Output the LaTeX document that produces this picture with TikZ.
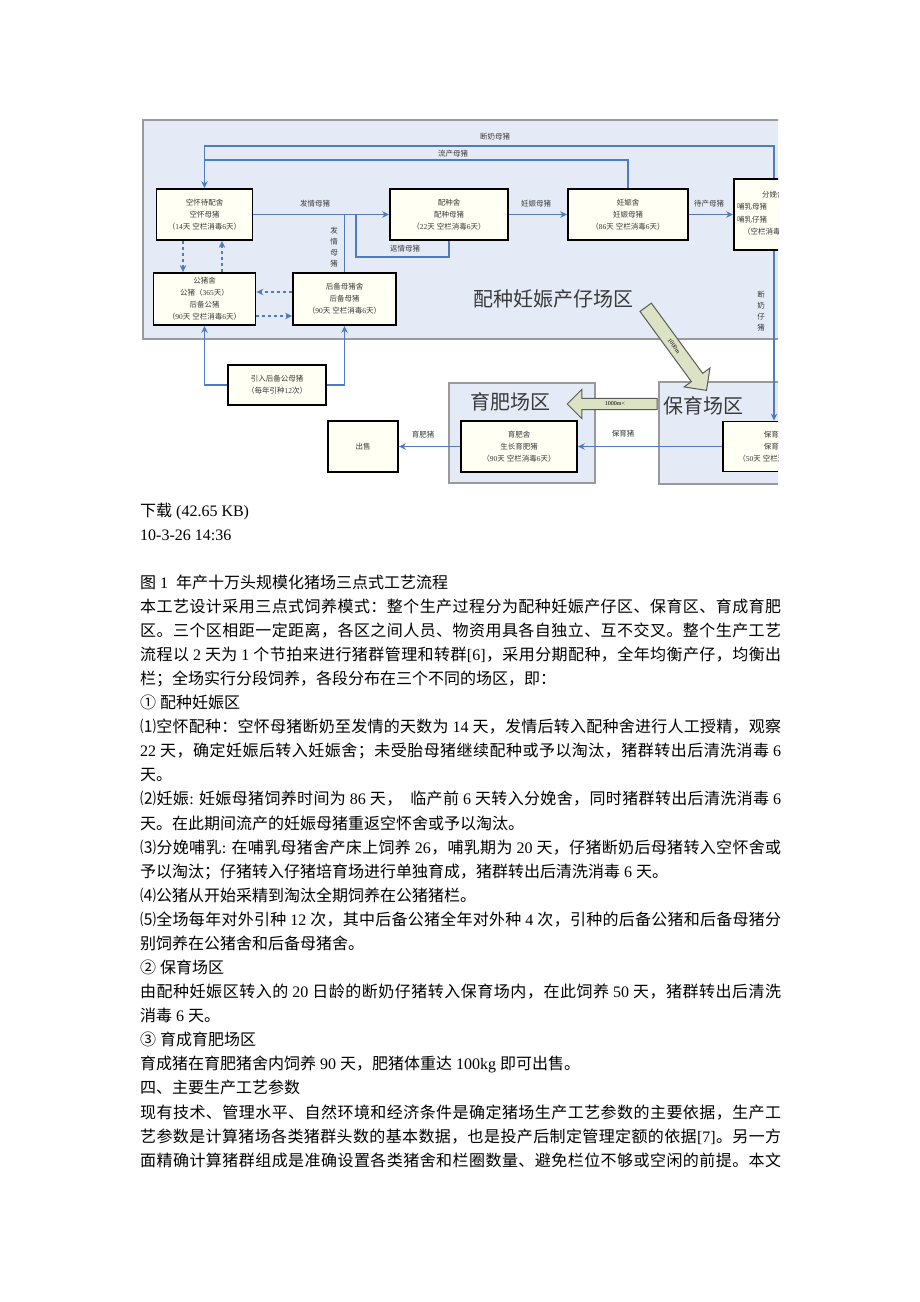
\documentclass[tikz,border=0pt]{standalone}
\usepackage{fontspec}
\setmainfont{Liberation Serif}
\newfontfamily\cjkf{Noto Sans CJK SC}
\usetikzlibrary{arrows.meta,shapes.arrows,calc}
\XeTeXinterchartokenstate=1
\newXeTeXintercharclass\cjkcls
\newcount\mycnt
\def\setcjkrange#1#2{\mycnt=#1\relax\loop\XeTeXcharclass\mycnt=\cjkcls\advance\mycnt by 1\relax\ifnum\mycnt<#2\relax\repeat}
\setcjkrange{"2460}{"2500}
\setcjkrange{"3000}{"3040}
\setcjkrange{"4E00}{"A000}
\setcjkrange{"FF00}{"FFF0}
\XeTeXinterchartoks 0 \cjkcls = {\hskip0pt plus 1pt\cjkf}
\XeTeXinterchartoks 4095 \cjkcls = {\cjkf}
\XeTeXinterchartoks \cjkcls 0 = {\hskip0pt plus 1pt\rmfamily}
\XeTeXinterchartoks \cjkcls 4095 = {\rmfamily}
\XeTeXinterchartoks \cjkcls \cjkcls = {\hskip0pt plus 1pt}
\hbadness=10000
\definecolor{zonefill}{HTML}{E5EBF6}
\definecolor{zoneline}{HTML}{9A9A9A}
\definecolor{shedfill}{HTML}{FFFFF3}
\definecolor{flowc}{HTML}{4F7CC0}
\definecolor{txtc}{HTML}{3A3A3A}
\definecolor{bigarr}{HTML}{DCE2C4}
\definecolor{arrline}{HTML}{5A5A5A}
\newcommand\mybl[2]{\node[body] (L#1) at (140,{516+24.08*#1}) {#2};}
\newcommand\myfl[2]{\node[body] (L#1) at (140,{516+24.08*#1}) {\spaceskip=4pt\relax\hbox to 641pt{#2}};}
\begin{document}
\begin{tikzpicture}[x=1pt,y=-1pt,
  zone/.style={draw=zoneline,line width=1.3pt,fill=zonefill},
  shed/.style={draw=black,line width=1.8pt,fill=shedfill,inner sep=0pt,align=center,text=txtc,font=\fontsize{7.5}{12}\selectfont},
  flowline/.style={draw=flowc,line width=1.4pt},
  flow/.style={flowline,-{Stealth[length=7pt,width=6.5pt]}},
  dflow/.style={flow,dash pattern=on 3pt off 3pt},
  elab/.style={text=txtc,font=\fontsize{7.5}{11}\selectfont,inner sep=0pt,align=center},
  bigl/.style={text=txtc,font=\fontsize{20}{22}\selectfont,inner sep=0pt},
  fatarrow/.style={single arrow,draw=arrline,fill=bigarr,line width=1pt,single arrow head extend=9pt,single arrow head indent=0pt,inner xsep=2pt,font=\fontsize{6}{6}\selectfont,text=black},
  body/.style={anchor=base west,inner sep=0pt,font=\fontsize{16}{24}\selectfont}
]
\useasboundingbox (0,0) rectangle (920,1302);
\fill[white] (0,0) rectangle (920,1302);

\begin{scope}
\clip (140,117) rectangle (778,487);
% zones
\filldraw[zone] (143,120) rectangle (820,339);
\filldraw[zone] (449,383) rectangle (595,483);
\filldraw[zone] (659,382) rectangle (820,484);

% sheds
\node[shed,minimum width=96pt,minimum height=51pt] (kong) at (204.5,214.5) {空怀待配舍\\空怀母猪\\（14天 空栏消毒6天）};
\node[shed,minimum width=118pt,minimum height=51pt] (pz) at (449,214.5) {配种舍\\配种母猪\\（22天 空栏消毒6天）};
\node[shed,minimum width=120pt,minimum height=51pt] (rs) at (628,214.5) {妊娠舍\\妊娠母猪\\（86天 空栏消毒6天）};
\node[shed,minimum width=80pt,minimum height=71pt] (fm) at (774,214.5) {};
\node[elab,anchor=west] (fm1) at (762,195) {分娩舍};
\node[elab,anchor=west] (fm2) at (737,207) {哺乳母猪};
\node[elab,anchor=west] (fm3) at (737,219.5) {哺乳仔猪};
\node[elab,anchor=west] (fm4) at (743,232) {（空栏消毒6天）};
\node[shed,minimum width=102pt,minimum height=52pt] (gz) at (204.5,299) {公猪舍\\公猪（365天）\\后备公猪\\（90天 空栏消毒6天）};
\node[shed,minimum width=103pt,minimum height=52pt] (hb) at (344.5,299) {后备母猪舍\\后备母猪\\（90天 空栏消毒6天）};
\node[shed,minimum width=98pt,minimum height=40pt] (yr) at (277,385) {引入后备公母猪\\（每年引种12次）};
\node[shed,minimum width=70pt,minimum height=51pt] (cs) at (363,446.5) {出售};
\node[shed,minimum width=116pt,minimum height=51pt] (yf) at (519,446.5) {育肥舍\\生长育肥猪\\（90天 空栏消毒6天）};
\node[shed,minimum width=104pt,minimum height=50pt] (by) at (775,446.5) {保育舍\\保育猪\\（50天 空栏消毒6天）};

% connectors
\coordinate (dm) at (204.5,146);
\coordinate (lc) at (204.5,160);
\coordinate (fq) at (356,257);
\draw[flow] (fm.north) |- (dm) -- (kong.north);
\draw[flowline] (rs.north) |- (lc);
\draw[flow] (kong.east) -- (pz.west);
\draw[flowline] (hb.north) -- (hb.north |- kong.east);
\draw[flowline] (pz.south) |- (fq) -- (fq |- pz.west);
\draw[flow] (pz.east) -- (rs.west);
\draw[flow] (rs.east) -- (fm.west);
\draw[flow] (fm.south) -- (fm.south |- by.north);
\draw[flow] (by.west) -- (yf.east);
\draw[flow] (yf.west) -- (cs.east);
\draw[dflow] ([xshift=-21.5pt]kong.south) -- ([xshift=-21.5pt]gz.north);
\draw[dflow] ([xshift=17.5pt]gz.north) -- ([xshift=17.5pt]kong.south);
\draw[dflow] ([yshift=7pt]hb.west) -- ([yshift=7pt]gz.east);
\draw[dflow] ([yshift=-17pt]gz.east) -- ([yshift=-17pt]hb.west);
\draw[flow] (yr.west) -| (gz.south);
\draw[flow] (yr.east) -| (hb.south);

% edge labels
\node[elab] (t1) at (495,137) {断奶母猪};
\node[elab] (t2) at (453,154) {流产母猪};
\node[elab] (t3) at (315,204) {发情母猪};
\node[elab] (t4) at (536,204) {妊娠母猪};
\node[elab] (t5) at (709,204) {待产母猪};
\node[elab] (t6) at (405,249) {返情母猪};
\node[elab] (t7) at (334,247) {发\\情\\母\\猪};
\node[elab] (t8) at (761,311) {断\\奶\\仔\\猪};
\node[elab] (t9) at (623,434) {保育猪};
\node[elab] (t10) at (423,435) {育肥猪};

% zone titles
\node[bigl] (z1) at (553,299) {配种妊娠产仔场区};
\node[bigl] (z2) at (510,402) {育肥场区};
\node[bigl] (z3) at (703,406) {保育场区};

% fat arrows
\node[fatarrow,inner ysep=4.5pt,rotate=-53.8,minimum height=103pt] (da) at (674,346) {1000m};
\node[fatarrow,inner ysep=3pt,shape border rotate=180,minimum height=90pt] (ha) at (615,404) {1000m<};
\end{scope}

% body text
\mybl{0}{下载 (42.65 KB)}
\mybl{1}{10-3-26 14:36}
\mybl{3}{图 1\ \ 年产十万头规模化猪场三点式工艺流程}
\myfl{4}{本工艺设计采用三点式饲养模式：整个生产过程分为配种妊娠产仔区、保育区、育成育肥}
\myfl{5}{区。三个区相距一定距离，各区之间人员、物资用具各自独立、互不交叉。整个生产工艺}
\myfl{6}{流程以 2 天为 1 个节拍来进行猪群管理和转群[6]，采用分期配种，全年均衡产仔，均衡出}
\mybl{7}{栏；全场实行分段饲养，各段分布在三个不同的场区，即：}
\mybl{8}{① 配种妊娠区}
\myfl{9}{⑴空怀配种：空怀母猪断奶至发情的天数为 14 天，发情后转入配种舍进行人工授精，观察}
\myfl{10}{22 天，确定妊娠后转入妊娠舍；未受胎母猪继续配种或予以淘汰，猪群转出后清洗消毒 6}
\mybl{11}{天。}
\myfl{12}{⑵妊娠: 妊娠母猪饲养时间为 86 天，\ \ 临产前 6 天转入分娩舍，同时猪群转出后清洗消毒 6}
\mybl{13}{天。在此期间流产的妊娠母猪重返空怀舍或予以淘汰。}
\myfl{14}{⑶分娩哺乳: 在哺乳母猪舍产床上饲养 26，哺乳期为 20 天，仔猪断奶后母猪转入空怀舍或}
\mybl{15}{予以淘汰；仔猪转入仔猪培育场进行单独育成，猪群转出后清洗消毒 6 天。}
\mybl{16}{⑷公猪从开始采精到淘汰全期饲养在公猪猪栏。}
\myfl{17}{⑸全场每年对外引种 12 次，其中后备公猪全年对外种 4 次，引种的后备公猪和后备母猪分}
\mybl{18}{别饲养在公猪舍和后备母猪舍。}
\mybl{19}{② 保育场区}
\myfl{20}{由配种妊娠区转入的 20 日龄的断奶仔猪转入保育场内，在此饲养 50 天，猪群转出后清洗}
\mybl{21}{消毒 6 天。}
\mybl{22}{③ 育成育肥场区}
\mybl{23}{育成猪在育肥猪舍内饲养 90 天，肥猪体重达 100kg 即可出售。}
\mybl{24}{四、主要生产工艺参数}
\myfl{25}{现有技术、管理水平、自然环境和经济条件是确定猪场生产工艺参数的主要依据，生产工}
\myfl{26}{艺参数是计算猪场各类猪群头数的基本数据，也是投产后制定管理定额的依据[7]。另一方}
\myfl{27}{面精确计算猪群组成是准确设置各类猪舍和栏圈数量、避免栏位不够或空闲的前提。本文}
\end{tikzpicture}
\end{document}
